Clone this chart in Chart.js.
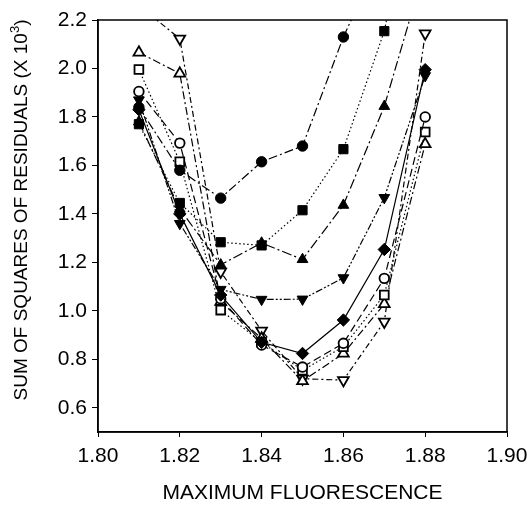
<!DOCTYPE html>
<html>
<head>
<meta charset="utf-8">
<script src="https://cdn.jsdelivr.net/npm/chart.js@4/dist/chart.umd.min.js"></script>
<style>
  html, body { margin: 0; padding: 0; background: #fff; }
  #wrap { width: 529px; height: 506px; position: relative; }
</style>
</head>
<body>
<div id="wrap"><canvas id="c" width="529" height="506"></canvas></div>
<script>
// ---- data ----
const xValues = [1.81, 1.82, 1.83, 1.84, 1.85, 1.86, 1.87, 1.88];
const filledCircle   = [1.84, 1.58, 1.465, 1.615, 1.68, 2.13, 2.50, null];
const filledSquare   = [1.77, 1.445, 1.283, 1.27, 1.415, 1.667, 2.154, 3.0];
const filledTriangle = [1.78, 1.42, 1.19, 1.28, 1.212, 1.436, 1.844, 2.42];
const filledDownTri  = [1.87, 1.36, 1.088, 1.047, 1.048, 1.136, 1.467, 1.97];
const filledDiamond  = [1.83, 1.40, 1.065, 0.87, 0.824, 0.962, 1.253, 1.995];
const openCircle     = [1.905, 1.692, 1.05, 0.859, 0.768, 0.866, 1.134, 1.80];
const openSquare     = [1.996, 1.615, 1.003, 0.87, 0.755, 0.852, 1.065, 1.738];
const openTriangle   = [2.066, 1.979, 1.037, 0.886, 0.71, 0.824, 1.028, 1.688];
const openDownTri    = [2.26, 2.123, 1.161, 0.918, 0.72, 0.714, 0.955, 2.144];
const xTicks = [1.80, 1.82, 1.84, 1.86, 1.88, 1.90];
const yTicks = [0.6, 0.8, 1.0, 1.2, 1.4, 1.6, 1.8, 2.0, 2.2];
const xTitle = 'MAXIMUM FLUORESCENCE';
const yTitleMain = 'SUM OF SQUARES OF RESIDUALS (X 10';
const yTitleSup = '3';
const yTitleEnd = ')';

function pts(arr) {
  const out = [];
  arr.forEach((v, i) => { if (v !== null) out.push({ x: xValues[i], y: v }); });
  return out;
}

function ds(arr, style, filled, dash, radius, rotation) {
  return {
    data: pts(arr),
    showLine: true,
    borderColor: '#000',
    borderWidth: 1.2,
    borderDash: dash,
    pointStyle: style,
    pointRotation: rotation || 0,
    pointRadius: radius,
    pointHoverRadius: radius,
    pointBackgroundColor: filled ? '#000' : '#fff',
    pointBorderColor: '#000',
    pointBorderWidth: filled ? 1 : 1.8,
    fill: false,
    clip: 0,
    tension: 0
  };
}

const datasets = [
  ds(filledCircle,   'circle',   true,  [9, 3, 2, 3], 5.2),
  ds(filledSquare,   'rect',     true,  [1.5, 2.5], 6.5),
  ds(filledTriangle, 'triangle', true,  [10, 3, 2, 3], 6.2),
  ds(filledDownTri,  'triangle', true,  [7, 2, 2, 2, 2, 2], 6.2, 180),
  ds(filledDiamond,  'rectRot',  true,  [], 6.2),
  ds(openCircle,     'circle',   false, [8, 4], 4.8),
  ds(openSquare,     'rect',     false, [1.5, 2.5], 6.2),
  ds(openTriangle,   'triangle', false, [8, 3, 2, 3], 6.2),
  ds(openDownTri,    'triangle', false, [6, 3, 2, 3], 6.2, 180)
];

const FONT = '"Liberation Sans", Arial, sans-serif';

const frame = {
  id: 'frame',
  afterDatasetsDraw(chart) {
    const a = chart.chartArea, ctx = chart.ctx;
    ctx.save();
    ctx.strokeStyle = '#000';
    ctx.lineWidth = 1.5;
    ctx.strokeRect(a.left, a.top, a.right - a.left, a.bottom - a.top);
    ctx.restore();
  },
  afterDraw(chart) {
    const ctx = chart.ctx;
    ctx.save();
    ctx.translate(22, 210);
    ctx.rotate(-Math.PI / 2);
    ctx.fillStyle = '#000';
    ctx.textBaseline = 'middle';
    ctx.textAlign = 'left';
    const big = '19px ' + FONT, small = '13px ' + FONT;
    ctx.font = big;
    const w1 = ctx.measureText(yTitleMain).width;
    const w3 = ctx.measureText(yTitleEnd).width;
    ctx.font = small;
    const w2 = ctx.measureText(yTitleSup).width;
    const total = w1 + w2 + w3;
    let x0 = -total / 2;
    ctx.font = big;
    ctx.fillText(yTitleMain, x0, 0);
    ctx.font = small;
    ctx.fillText(yTitleSup, x0 + w1, -7);
    ctx.font = big;
    ctx.fillText(yTitleEnd, x0 + w1 + w2, 0);
    ctx.restore();
  }
};

new Chart(document.getElementById('c'), {
  type: 'scatter',
  data: { datasets },
  plugins: [frame],
  options: {
    responsive: false,
    animation: false,
    events: [],
    layout: { padding: { left: 0, right: 22, top: 20, bottom: 0 } },
    plugins: { legend: { display: false }, tooltip: { enabled: false } },
    scales: {
      x: {
        type: 'linear',
        min: 1.80, max: 1.90,
        afterBuildTicks(scale) { scale.ticks = xTicks.map(v => ({ value: v })); },
        afterFit(scale) { scale.height = 74; scale.paddingLeft = 0; scale.paddingRight = 0; },
        ticks: {
          color: '#000',
          font: { family: FONT, size: 21 },
          padding: 7,
          maxRotation: 0,
          callback: v => Number(v).toFixed(2)
        },
        grid: { display: true, drawOnChartArea: false, drawTicks: true, tickLength: 5, color: '#000', lineWidth: 1 },
        border: { display: true, color: '#000', width: 1.5 },
        title: { display: true, text: xTitle, color: '#000', font: { family: FONT, size: 21 }, padding: { top: 4, bottom: 0 } }
      },
      y: {
        type: 'linear',
        min: 0.5, max: 2.2,
        afterBuildTicks(scale) { scale.ticks = yTicks.map(v => ({ value: v })); },
        afterFit(scale) { scale.width = 98; scale.paddingTop = 0; scale.paddingBottom = 0; },
        ticks: {
          color: '#000',
          font: { family: FONT, size: 21 },
          padding: 5,
          callback: v => Number(v).toFixed(1)
        },
        grid: { display: true, drawOnChartArea: false, drawTicks: true, tickLength: 6, color: '#000', lineWidth: 1 },
        border: { display: true, color: '#000', width: 1.5 },
        title: { display: false }
      }
    }
  }
});
</script>
</body>
</html>
